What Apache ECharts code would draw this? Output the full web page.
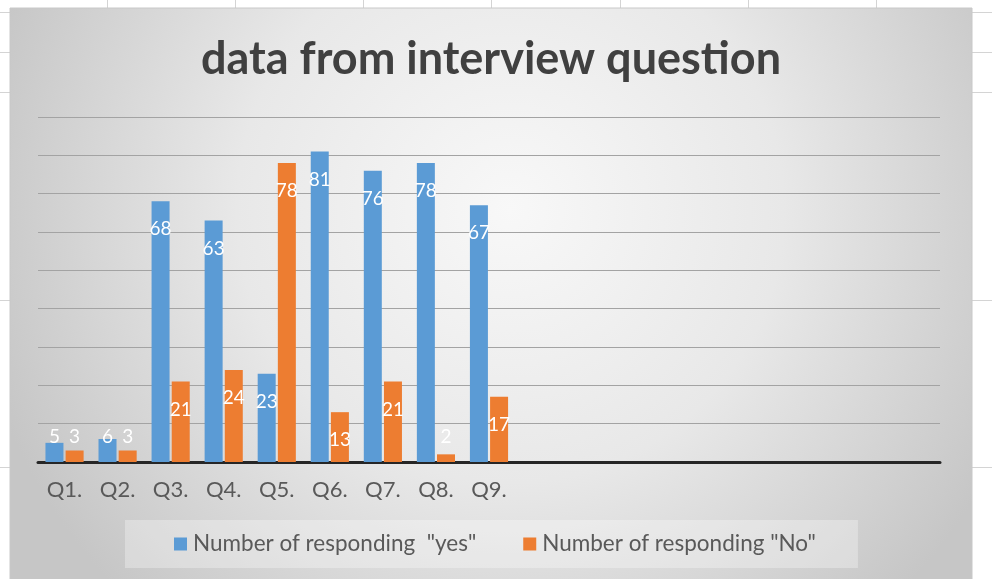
<!DOCTYPE html>
<html>
<head>
<meta charset="utf-8">
<script src="https://cdn.jsdelivr.net/npm/echarts@6/dist/echarts.min.js"></script>
<style>
html,body{margin:0;padding:0;background:#ffffff;}
#chart{width:992px;height:579px;}
</style>
</head>
<body>
<div id="chart"></div>
<script>
const categories = ['Q1.', 'Q2.', 'Q3.', 'Q4.', 'Q5.', 'Q6.', 'Q7.', 'Q8.', 'Q9.', '', '', '', '', '', '', '', ''];
const yesValues = [5, 6, 68, 63, 23, 81, 76, 78, 67];
const noValues = [3, 3, 21, 24, 78, 13, 21, 2, 17];
const seriesNames = ['Number of responding  "yes"', 'Number of responding "No"'];
const titleText = 'data from interview question';

const FONT = 'Lato, "Open Sans", sans-serif';

function withLabels(values) {
  return values.map(function (v) {
    return {
      value: v,
      label: v >= 13
        ? { position: 'insideTop', distance: 18 }
        : { position: 'insideBottom', distance: 15 }
    };
  });
}

// spreadsheet cell lines visible outside the chart object
const sheetLines = [];
[107, 235, 363, 491, 620, 748, 876].forEach(function (x) {
  sheetLines.push({ type: 'line', silent: true, z: -20,
    shape: { x1: x + 0.5, y1: 0, x2: x + 0.5, y2: 8 },
    style: { stroke: '#d4d4d4', lineWidth: 1 } });
});
[12, 52, 92, 300, 467].forEach(function (y) {
  sheetLines.push({ type: 'line', silent: true, z: -20,
    shape: { x1: 0, y1: y + 0.5, x2: 10, y2: y + 0.5 },
    style: { stroke: '#d4d4d4', lineWidth: 1 } });
  sheetLines.push({ type: 'line', silent: true, z: -20,
    shape: { x1: 972, y1: y + 0.5, x2: 992, y2: y + 0.5 },
    style: { stroke: '#d4d4d4', lineWidth: 1 } });
});

const chart = echarts.init(document.getElementById('chart'));
chart.setOption({
  animation: false,
  backgroundColor: '#ffffff',
  graphic: sheetLines.concat([
    {
      type: 'rect', silent: true, z: -10,
      shape: { x: 10, y: 8, width: 962, height: 575 },
      style: {
        fill: new echarts.graphic.RadialGradient(0.52, 0.35, 0.95, [
          { offset: 0, color: '#f8f8f8' },
          { offset: 0.5, color: '#e8e8e8' },
          { offset: 1, color: '#c6c6c6' }
        ]),
        stroke: '#c8c8c8', lineWidth: 1
      }
    }
  ]),
  title: {
    text: titleText,
    left: 486,
    textAlign: 'center',
    top: 32,
    textStyle: { fontFamily: FONT, fontWeight: 'bold', fontSize: 45, lineHeight: 45, color: '#404040' }
  },
  legend: {
    data: seriesNames,
    left: 125,
    top: 520,
    padding: [11, 42, 11, 49],
    itemGap: 47,
    itemWidth: 13,
    itemHeight: 13,
    icon: 'rect',
    backgroundColor: 'rgba(255,255,255,0.3)',
    textStyle: { fontFamily: FONT, fontSize: 22.5, lineHeight: 26, color: '#595959', padding: [0, 0, 0, 1] }
  },
  grid: { left: 38, right: 52, top: 117, bottom: 117, containLabel: false },
  xAxis: {
    type: 'category',
    data: categories,
    axisLine: { show: true, lineStyle: { color: '#262626', width: 3 } },
    axisTick: { show: false },
    axisLabel: { margin: 17, fontFamily: FONT, fontSize: 22, color: '#595959', interval: 0 }
  },
  yAxis: {
    type: 'value',
    min: 0, max: 90, interval: 10,
    axisLine: { show: false },
    axisTick: { show: false },
    axisLabel: { show: false },
    splitLine: { lineStyle: { color: '#a3a3a3', width: 1 } }
  },
  series: [
    {
      name: seriesNames[0], type: 'bar',
      data: withLabels(yesValues),
      barWidth: 18, barGap: '12%',
      itemStyle: { color: '#5b9bd5' },
      label: { show: true, color: '#ffffff', fontFamily: FONT, fontSize: 19, lineHeight: 20 }
    },
    {
      name: seriesNames[1], type: 'bar',
      data: withLabels(noValues),
      barWidth: 18, barGap: '12%',
      itemStyle: { color: '#ed7d31' },
      label: { show: true, color: '#ffffff', fontFamily: FONT, fontSize: 19, lineHeight: 20 }
    }
  ]
});
</script>
</body>
</html>
